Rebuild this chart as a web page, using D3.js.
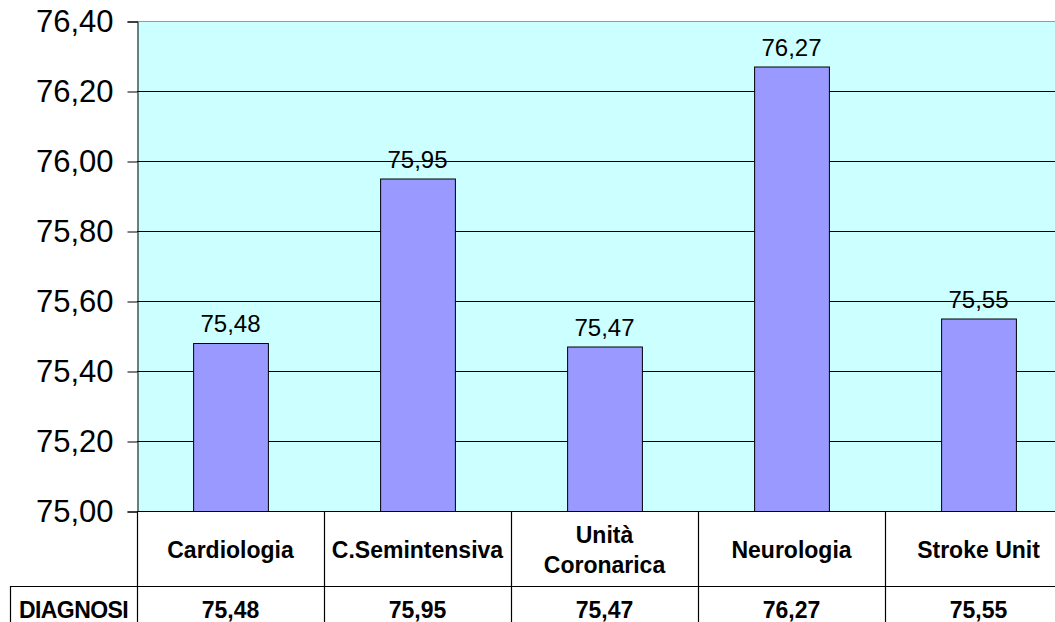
<!doctype html>
<html>
<head>
<meta charset="utf8">
<style>
    body { margin: 0; background: #fff; }
    svg { display: block; font-family: Arial, "Liberation Sans", sans-serif; }
    .bar { fill: #9999ff; stroke: #000; stroke-width: 1; }
    .tbl { stroke: #000; stroke-width: 1.2; }
</style>
<script src="https://d3js.org/d3.v7.min.js"></script>
</head>
<body>
<svg width="1055" height="622"></svg>
<script>

    var categories = ["Cardiologia", "C.Semintensiva", "Unità Coronarica", "Neurologia", "Stroke Unit"];
    var values = [75.48, 75.95, 75.47, 76.27, 75.55];
    var seriesName = "DIAGNOSI";
    var yTicks = [75.00, 75.20, 75.40, 75.60, 75.80, 76.00, 76.20, 76.40];

    var svg = d3.select("svg");
    var plotLeft = 137, plotTop = 21, plotBottom = 511, colW = 187;
    var plotRight = plotLeft + colW * categories.length;

    var fmt = function(v) { return v.toFixed(2).replace(".", ","); };

    var x = d3.scaleBand().domain(categories).range([plotLeft, plotRight])
        .paddingInner(0.6).paddingOuter(0.3);
    var col = d3.scaleBand().domain(categories).range([plotLeft, plotRight]);
    var y = d3.scaleLinear().domain([75, 76.4]).range([plotBottom, plotTop]);

    // plot background
    svg.append("rect")
       .attr("x", plotLeft).attr("y", plotTop)
       .attr("width", plotRight - plotLeft).attr("height", plotBottom - plotTop)
       .attr("fill", "#ccffff");

    // gridlines
    svg.append("g")
       .selectAll("line")
       .data(yTicks.slice(1))
       .enter().append("line")
       .attr("x1", plotLeft).attr("x2", plotRight)
       .attr("y1", function(d) { return Math.round(y(d)) + 0.5; })
       .attr("y2", function(d) { return Math.round(y(d)) + 0.5; })
       .attr("stroke", function(d) { return d === 76.4 ? "#999" : "#000"; });

    // y axis
    var yAxis = svg.append("g")
       .attr("transform", "translate(" + (plotLeft + 0.5) + ",0.5)")
       .call(d3.axisLeft(y).tickValues(yTicks).tickFormat(fmt).tickSize(10).tickPadding(14));
    yAxis.select(".domain").attr("stroke", "#000");
    yAxis.selectAll(".tick line").attr("stroke", "#000");
    yAxis.selectAll("text")
         .attr("font-size", "31px")
         .attr("font-family", "Arial, 'Liberation Sans', sans-serif")
         .attr("fill", "#000");

    // bars
    svg.selectAll(".bar")
       .data(values)
       .enter().append("rect")
       .attr("class", "bar")
       .attr("x", function(d, i) { return x(categories[i]) + 0.5; })
       .attr("y", function(d) { return y(d) + 0.5; })
       .attr("width", x.bandwidth())
       .attr("height", function(d) { return plotBottom - y(d); });

    // value labels
    svg.selectAll(".val")
       .data(values)
       .enter().append("text")
       .attr("class", "val")
       .attr("x", function(d, i) { return x(categories[i]) + x.bandwidth() / 2; })
       .attr("y", function(d) { return y(d) - 11; })
       .attr("text-anchor", "middle")
       .attr("font-size", "24px")
       .text(fmt);

    // data table
    var row1 = plotBottom, row2 = 586, row3 = 640, labelLeft = 10;
    var t = svg.append("g").attr("class", "tbl");
    t.append("line").attr("x1", plotLeft).attr("x2", plotRight).attr("y1", row1 + 0.5).attr("y2", row1 + 0.5);
    t.append("line").attr("x1", labelLeft).attr("x2", plotRight).attr("y1", row2 + 0.5).attr("y2", row2 + 0.5);
    t.append("line").attr("x1", labelLeft + 0.5).attr("x2", labelLeft + 0.5).attr("y1", row2).attr("y2", row3);
    t.selectAll(".vl")
     .data(categories.concat([null]))
     .enter().append("line")
     .attr("x1", function(d, i) { return plotLeft + i * col.bandwidth() + 0.5; })
     .attr("x2", function(d, i) { return plotLeft + i * col.bandwidth() + 0.5; })
     .attr("y1", row1).attr("y2", row3);

    var header = svg.append("g").attr("font-weight", "bold").attr("font-size", "23px")
                    .attr("text-anchor", "middle");
    categories.forEach(function(c) {
        var cx = col(c) + col.bandwidth() / 2;
        var w = c.split(" ");
        if (c === "Unità Coronarica") {
            header.append("text").attr("x", cx).attr("y", 543).text(w[0]);
            header.append("text").attr("x", cx).attr("y", 573).text(w[1]);
        } else {
            header.append("text").attr("x", cx).attr("y", 558).text(c);
        }
    });

    header.selectAll(".cell")
       .data(values)
       .enter().append("text")
       .attr("x", function(d, i) { return col(categories[i]) + col.bandwidth() / 2; })
       .attr("y", 618)
       .text(fmt);

    header.append("text")
       .attr("x", (labelLeft + plotLeft) / 2)
       .attr("y", 618)
       .attr("letter-spacing", "-0.6px")
       .text(seriesName);

</script>
</body>
</html>
